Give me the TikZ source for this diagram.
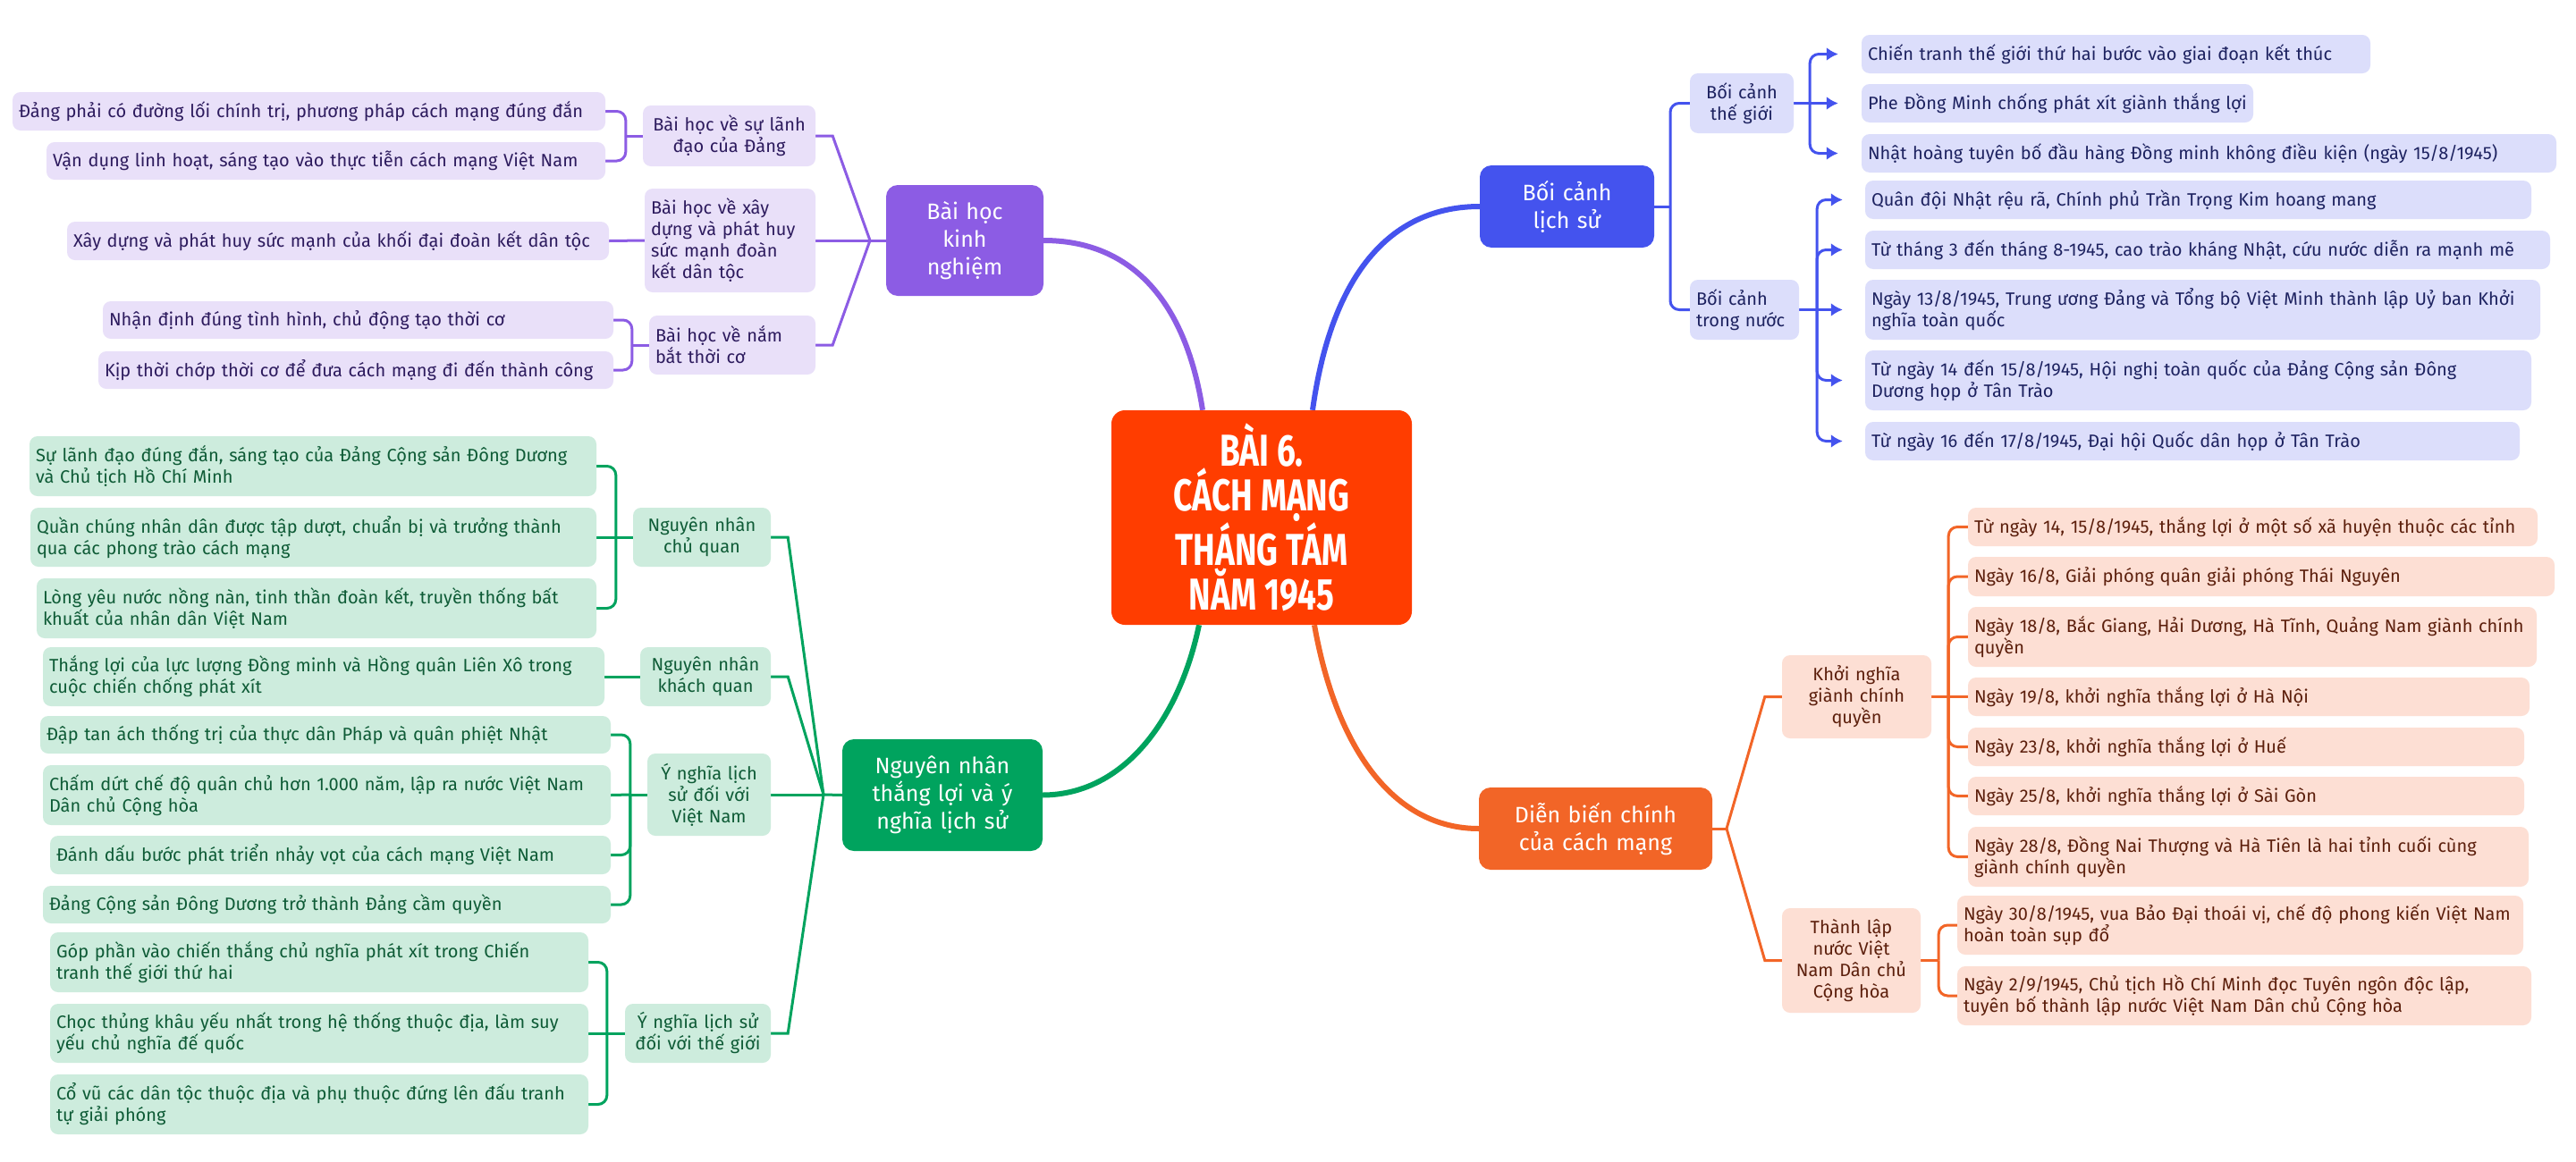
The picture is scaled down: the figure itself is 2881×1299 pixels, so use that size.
\documentclass[tikz,border=0pt]{standalone}
\usepackage{fontspec}
\setmainfont{Fira Sans}
\newfontfamily\titlefont[FakeStretch=0.74]{Fira Sans}
\usetikzlibrary{arrows.meta}
\definecolor{pM}{HTML}{8C5CE4}
\definecolor{pL}{HTML}{E9E0F9}
\definecolor{pT}{HTML}{2D1B5E}
\definecolor{bM}{HTML}{4453EE}
\definecolor{bL}{HTML}{DCDEFB}
\definecolor{bT}{HTML}{1D2260}
\definecolor{oM}{HTML}{F26527}
\definecolor{oL}{HTML}{FDDFD4}
\definecolor{oT}{HTML}{5C1F0C}
\definecolor{gM}{HTML}{00A35E}
\definecolor{gL}{HTML}{CDECDD}
\definecolor{gT}{HTML}{0E5B36}
\definecolor{cM}{HTML}{FF3D00}
\pgfdeclarelayer{back}
\pgfdeclarelayer{bg}
\pgfsetlayers{back,bg,main}
\newcommand\bx[7]{%
 \pgfmathsetmacro\qbw{#5-#3}%
 \pgfmathsetmacro\qbh{#6-#4}%
 \pgfmathsetmacro\qcx{(#3+#5)/2}%
 \pgfmathsetmacro\qcy{(#4+#6)/2}%
 \pgfmathsetmacro\qtw{#5-#3-14}%
 \node[#1, minimum width=\qbw pt, minimum height=\qbh pt, text width=\qtw pt] (#2) at (\qcx,\qcy) {#7};}
\begin{document}
\begin{tikzpicture}[x=1pt,y=-1pt,
  box/.style={rounded corners=9pt, inner xsep=7pt, inner ysep=0pt, font=\fontsize{20}{24}\selectfont},
  pleaf/.style={box, fill=pL, text=pT, align=left},
  pmid/.style={pleaf, align=center},
  bleaf/.style={box, fill=bL, text=bT, align=left},
  bmid/.style={bleaf, align=center},
  oleaf/.style={box, fill=oL, text=oT, align=left},
  omid/.style={oleaf, align=center},
  gleaf/.style={box, fill=gL, text=gT, align=left},
  gmid/.style={gleaf, align=center},
  mainbox/.style={rounded corners=13pt, inner xsep=7pt, inner ysep=0pt, align=center, text=white, font=\fontsize{25}{31}\selectfont},
  ctrbox/.style={rounded corners=15pt, fill=cM, inner sep=0pt, align=center, text=white, font=\titlefont\bfseries\fontsize{50}{50}\selectfont},
  pline/.style={draw=pM, line width=3pt},
  bline/.style={draw=bM, line width=3pt},
  oline/.style={draw=oM, line width=3pt},
  gline/.style={draw=gM, line width=3pt},
  barrow/.style={bline, -{Latex[length=13pt,width=15pt]}},
  pcurve/.style={draw=pM, line width=6pt},
  bcurve/.style={draw=bM, line width=6pt},
  ocurve/.style={draw=oM, line width=6pt},
  gcurve/.style={draw=gM, line width=6pt},
  rc/.style={rounded corners=10pt}]
\begin{pgfonlayer}{back}
\fill[white] (0,0) rectangle (2881,1299);
\end{pgfonlayer}
\useasboundingbox (0,0) rectangle (2881,1299);

% central
\node[ctrbox, minimum width=336pt, minimum height=240pt] (ctr) at (1411,579) {BÀI 6.\\CÁCH MẠNG\\THÁNG TÁM\\NĂM 1945};

% purple
\bx{mainbox, fill=pM}{pmain}{991}{207}{1167}{331}{Bài học\\kinh\\nghiệm}
\bx{pmid}{pB1}{719}{118}{912}{186}{Bài học về sự lãnh\\đạo của Đảng}
\bx{pleaf}{pB2}{721}{211}{912}{327}{Bài học về xây\\dựng và phát huy\\sức mạnh đoàn\\kết dân tộc}
\bx{pleaf}{pB3}{726}{353}{912}{419}{Bài học về nắm\\bắt thời cơ}
\bx{pleaf}{pL1a}{14}{103}{677}{146}{Đảng phải có đường lối chính trị, phương pháp cách mạng đúng đắn}
\bx{pleaf}{pL1b}{52}{159}{677}{201}{Vận dụng linh hoạt, sáng tạo vào thực tiễn cách mạng Việt Nam}
\bx{pleaf}{pL2a}{75}{248}{681}{291}{Xây dựng và phát huy sức mạnh của khối đại đoàn kết dân tộc}
\bx{pleaf}{pL3a}{115}{337}{686}{379}{Nhận định đúng tình hình, chủ động tạo thời cơ}
\bx{pleaf}{pL3b}{110}{393}{686}{435}{Kịp thời chớp thời cơ để đưa cách mạng đi đến thành công}

% blue
\bx{mainbox, fill=bM}{bmain}{1655}{185}{1850}{277}{Bối cảnh\\lịch sử}
\bx{bmid}{bW}{1890}{82}{2006}{149}{Bối cảnh\\thế giới}
\bx{bleaf}{bW1}{2082}{39}{2651}{82}{Chiến tranh thế giới thứ hai bước vào giai đoạn kết thúc}
\bx{bleaf}{bW2}{2082}{94}{2520}{137}{Phe Đồng Minh chống phát xít giành thắng lợi}
\bx{bleaf}{bW3}{2082}{150}{2859}{193}{Nhật hoàng tuyên bố đầu hàng Đồng minh không điều kiện (ngày 15/8/1945)}
\bx{bleaf}{bD}{1890}{313}{2012}{380}{Bối cảnh\\trong nước}
\bx{bleaf}{bD1}{2086}{202}{2831}{245}{Quân đội Nhật rệu rã, Chính phủ Trần Trọng Kim hoang mang}
\bx{bleaf}{bD2}{2086}{258}{2852}{301}{Từ tháng 3 đến tháng 8-1945, cao trào kháng Nhật, cứu nước diễn ra mạnh mẽ}
\bx{bleaf}{bD3}{2086}{313}{2841}{380}{Ngày 13/8/1945, Trung ương Đảng và Tổng bộ Việt Minh thành lập Uỷ ban Khởi\\nghĩa toàn quốc}
\bx{bleaf}{bD4}{2086}{392}{2831}{459}{Từ ngày 14 đến 15/8/1945, Hội nghị toàn quốc của Đảng Cộng sản Đông\\Dương họp ở Tân Trào}
\bx{bleaf}{bD5}{2086}{472}{2818}{515}{Từ ngày 16 đến 17/8/1945, Đại hội Quốc dân họp ở Tân Trào}

% orange
\bx{mainbox, fill=oM}{omain}{1654}{881}{1915}{973}{Diễn biến chính\\của cách mạng}
\bx{omid}{oK}{1993}{733}{2160}{826}{Khởi nghĩa\\giành chính\\quyền}
\bx{oleaf}{oK1}{2201}{568}{2838}{611}{Từ ngày 14, 15/8/1945, thắng lợi ở một số xã huyện thuộc các tỉnh}
\bx{oleaf}{oK2}{2201}{623}{2857}{667}{Ngày 16/8, Giải phóng quân giải phóng Thái Nguyên}
\bx{oleaf}{oK3}{2201}{679}{2837}{746}{Ngày 18/8, Bắc Giang, Hải Dương, Hà Tĩnh, Quảng Nam giành chính\\quyền}
\bx{oleaf}{oK4}{2201}{758}{2829}{801}{Ngày 19/8, khởi nghĩa thắng lợi ở Hà Nội}
\bx{oleaf}{oK5}{2201}{814}{2823}{857}{Ngày 23/8, khởi nghĩa thắng lợi ở Huế}
\bx{oleaf}{oK6}{2201}{869}{2823}{912}{Ngày 25/8, khởi nghĩa thắng lợi ở Sài Gòn}
\bx{oleaf}{oK7}{2201}{925}{2828}{992}{Ngày 28/8, Đồng Nai Thượng và Hà Tiên là hai tỉnh cuối cùng\\giành chính quyền}
\bx{omid}{oTL}{1993}{1016}{2148}{1133}{Thành lập\\nước Việt\\Nam Dân chủ\\Cộng hòa}
\bx{oleaf}{oT1}{2189}{1002}{2822}{1068}{Ngày 30/8/1945, vua Bảo Đại thoái vị, chế độ phong kiến Việt Nam\\hoàn toàn sụp đổ}
\bx{oleaf}{oT2}{2189}{1081}{2831}{1147}{Ngày 2/9/1945, Chủ tịch Hồ Chí Minh đọc Tuyên ngôn độc lập,\\tuyên bố thành lập nước Việt Nam Dân chủ Cộng hòa}

% green
\bx{mainbox, fill=gM}{gmain}{942}{827}{1166}{952}{Nguyên nhân\\thắng lợi và ý\\nghĩa lịch sử}
\bx{gmid}{gN1}{708}{568}{862}{634}{Nguyên nhân\\chủ quan}
\bx{gleaf}{gG1a}{33}{488}{667}{555}{Sự lãnh đạo đúng đắn, sáng tạo của Đảng Cộng sản Đông Dương\\và Chủ tịch Hồ Chí Minh}
\bx{gleaf}{gG1b}{34}{568}{667}{634}{Quần chúng nhân dân được tập dượt, chuẩn bị và trưởng thành\\qua các phong trào cách mạng}
\bx{gleaf}{gG1c}{41}{647}{667}{714}{Lòng yêu nước nồng nàn, tinh thần đoàn kết, truyền thống bất\\khuất của nhân dân Việt Nam}
\bx{gmid}{gN2}{716}{724}{862}{790}{Nguyên nhân\\khách quan}
\bx{gleaf}{gG2}{48}{724}{676}{790}{Thắng lợi của lực lượng Đồng minh và Hồng quân Liên Xô trong\\cuộc chiến chống phát xít}
\bx{gmid}{gN3}{724}{843}{862}{935}{Ý nghĩa lịch\\sử đối với\\Việt Nam}
\bx{gleaf}{gH1}{45}{801}{683}{843}{Đập tan ách thống trị của thực dân Pháp và quân phiệt Nhật}
\bx{gleaf}{gH2}{48}{856}{683}{923}{Chấm dứt chế độ quân chủ hơn 1.000 năm, lập ra nước Việt Nam\\Dân chủ Cộng hòa}
\bx{gleaf}{gH3}{56}{935}{683}{978}{Đánh dấu bước phát triển nhảy vọt của cách mạng Việt Nam}
\bx{gleaf}{gH4}{48}{991}{683}{1033}{Đảng Cộng sản Đông Dương trở thành Đảng cầm quyền}
\bx{gmid}{gN4}{699}{1123}{862}{1189}{Ý nghĩa lịch sử\\đối với thế giới}
\bx{gleaf}{gI1}{56}{1043}{658}{1110}{Góp phần vào chiến thắng chủ nghĩa phát xít trong Chiến\\tranh thế giới thứ hai}
\bx{gleaf}{gI2}{56}{1123}{658}{1189}{Chọc thủng khâu yếu nhất trong hệ thống thuộc địa, làm suy\\yếu chủ nghĩa đế quốc}
\bx{gleaf}{gI3}{56}{1202}{658}{1269}{Cổ vũ các dân tộc thuộc địa và phụ thuộc đứng lên đấu tranh\\tự giải phóng}

\begin{pgfonlayer}{bg}
% main curves
\draw[pcurve] ([xshift=-66pt]ctr.north) .. controls (1325,330) and (1260,269) .. (pmain.east);
\draw[bcurve] ([xshift=57pt]ctr.north) .. controls (1490,300) and (1560,231) .. (bmain.west);
\draw[gcurve] ([xshift=-70pt]ctr.south) .. controls (1320,800) and (1260,889) .. (gmain.east);
\draw[ocurve] ([xshift=59pt]ctr.south) .. controls (1495,840) and (1560,927) .. (omain.west);

% purple
\coordinate (pc) at (973,269);
\draw[pline] (pmain.west) -- (pc);
\draw[pline] (pB1.east) -- ++(19,0) -- (pc);
\draw[pline] (pB2.east) -- (pc);
\draw[pline] (pB3.east) -- ++(19,0) -- (pc);
\coordinate (pk1) at ([xshift=-19pt]pB1.west);
\draw[pline] (pB1.west) -- (pk1);
\draw[pline, rc] (pk1) |- (pL1a.east);
\draw[pline, rc] (pk1) |- (pL1b.east);
\draw[pline] (pB2.west) -- (pL2a.east);
\coordinate (pk3) at ([xshift=-19pt]pB3.west);
\draw[pline] (pB3.west) -- (pk3);
\draw[pline, rc] (pk3) |- (pL3a.east);
\draw[pline, rc] (pk3) |- (pL3b.east);

% blue
\coordinate (bk) at (1868,231);
\draw[bline] (bmain.east) -- (bk);
\draw[bline, rc] (bW.west) -| (bk) |- (bD.west);
\coordinate (bwk) at ([xshift=18pt]bW.east);
\draw[bline] (bW.east) -- (bwk);
\draw[barrow, rc] (bwk) |- ([xshift=-26pt]bW1.west);
\draw[barrow] (bwk) -- ([xshift=-26pt]bW2.west);
\draw[barrow, rc] (bwk) |- ([xshift=-26pt]bW3.west);
\coordinate (bdk) at ([xshift=20pt]bD.east);
\draw[bline] (bD.east) -- (bdk);
\draw[barrow, rc] (bdk) |- ([xshift=-25pt]bD1.west);
\draw[barrow, rc] (bdk) |- ([xshift=-25pt]bD2.west);
\draw[barrow] (bdk) -- ([xshift=-25pt]bD3.west);
\draw[barrow, rc] (bdk) |- ([xshift=-25pt]bD4.west);
\draw[barrow, rc] (bdk) |- ([xshift=-25pt]bD5.west);

% orange
\coordinate (oc) at (1931,927);
\draw[oline] (omain.east) -- (oc);
\draw[oline] (oK.west) -- ++(-19,0) -- (oc);
\draw[oline] (oTL.west) -- ++(-19,0) -- (oc);
\coordinate (okk) at ([xshift=19pt]oK.east);
\draw[oline] (oK.east) -- (okk);
\draw[oline, rc] (okk) |- (oK1.west);
\draw[oline, rc] (okk) |- (oK2.west);
\draw[oline, rc] (okk) |- (oK3.west);
\draw[oline] (okk) -- (oK4.west);
\draw[oline, rc] (okk) |- (oK5.west);
\draw[oline, rc] (okk) |- (oK6.west);
\draw[oline, rc] (okk) |- (oK7.west);
\coordinate (otk) at ([xshift=20pt]oTL.east);
\draw[oline] (oTL.east) -- (otk);
\draw[oline, rc] (otk) |- (oT1.west);
\draw[oline, rc] (otk) |- (oT2.west);

% green
\coordinate (gc) at (921,889);
\draw[gline] (gmain.west) -- (gc);
\draw[gline] (gN1.east) -- ++(19,0) -- (gc);
\draw[gline] (gN2.east) -- ++(19,0) -- (gc);
\draw[gline] (gN3.east) -- (gc);
\draw[gline] (gN4.east) -- ++(19,0) -- (gc);
\coordinate (gk1) at ([xshift=-19pt]gN1.west);
\draw[gline] (gN1.west) -- (gk1);
\draw[gline, rc] (gk1) |- (gG1a.east);
\draw[gline] (gk1) -- (gG1b.east);
\draw[gline, rc] (gk1) |- (gG1c.east);
\draw[gline] (gN2.west) -- (gG2.east);
\coordinate (gk3) at ([xshift=-19pt]gN3.west);
\draw[gline] (gN3.west) -- (gk3);
\draw[gline, rc] (gk3) |- (gH1.east);
\draw[gline] (gk3) -- (gH2.east);
\draw[gline, rc] (gk3) |- (gH3.east);
\draw[gline, rc] (gk3) |- (gH4.east);
\coordinate (gk4) at ([xshift=-20pt]gN4.west);
\draw[gline] (gN4.west) -- (gk4);
\draw[gline, rc] (gk4) |- (gI1.east);
\draw[gline] (gk4) -- (gI2.east);
\draw[gline, rc] (gk4) |- (gI3.east);
\end{pgfonlayer}
\end{tikzpicture}
\end{document}
